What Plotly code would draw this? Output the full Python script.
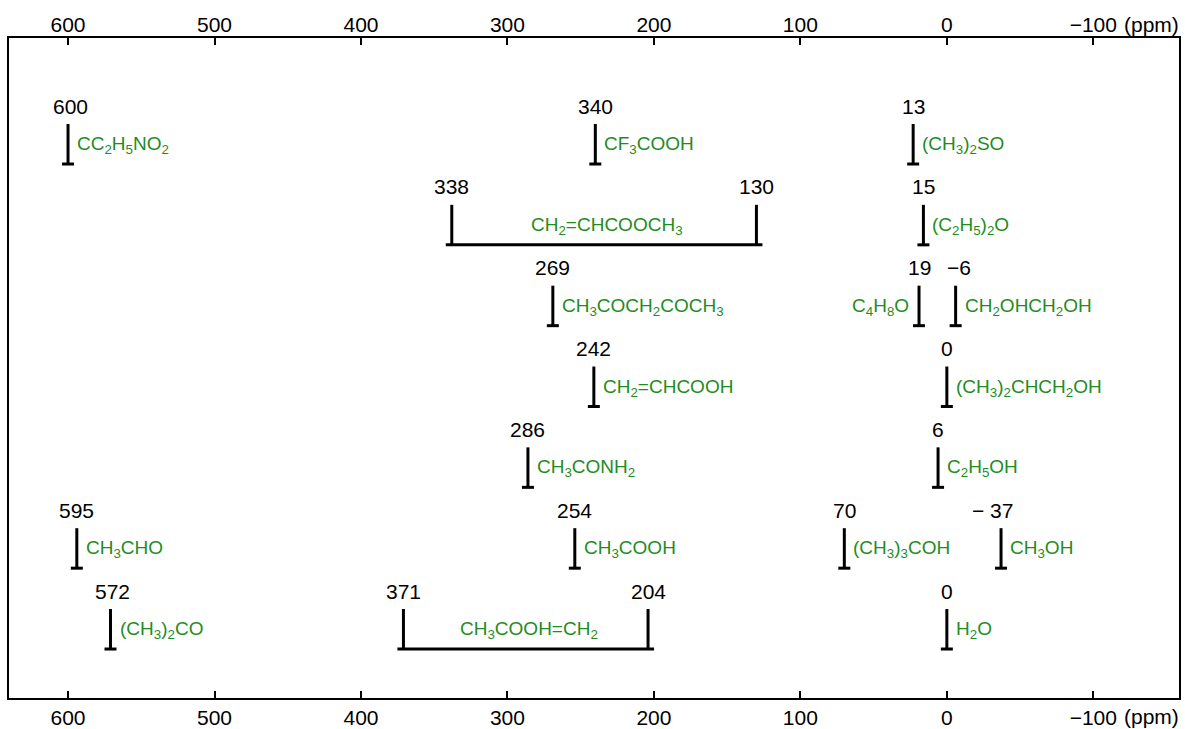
import plotly.graph_objects as go

# ---------------- data ----------------
# single resonances: drawn position (ppm), row, number label, compound, label side
peak_ppm = [600, 240, 23, 16, 269, 19, -6, 241, 0, 286, 6, 594, 254, 70, -37, 571, 0]
peak_row = [1, 1, 1, 2, 3, 3, 3, 4, 4, 5, 5, 6, 6, 6, 6, 7, 7]
peak_label = ["600", "340", "13", "15", "269", "19", "−6", "242", "0", "286", "6",
              "595", "254", "70", "− 37", "572", "0"]
peak_compound = [
    "CC<sub>2</sub>H<sub>5</sub>NO<sub>2</sub>",
    "CF<sub>3</sub>COOH",
    "(CH<sub>3</sub>)<sub>2</sub>SO",
    "(C<sub>2</sub>H<sub>5</sub>)<sub>2</sub>O",
    "CH<sub>3</sub>COCH<sub>2</sub>COCH<sub>3</sub>",
    "C<sub>4</sub>H<sub>8</sub>O",
    "CH<sub>2</sub>OHCH<sub>2</sub>OH",
    "CH<sub>2</sub>=CHCOOH",
    "(CH<sub>3</sub>)<sub>2</sub>CHCH<sub>2</sub>OH",
    "CH<sub>3</sub>CONH<sub>2</sub>",
    "C<sub>2</sub>H<sub>5</sub>OH",
    "CH<sub>3</sub>CHO",
    "CH<sub>3</sub>COOH",
    "(CH<sub>3</sub>)<sub>3</sub>COH",
    "CH<sub>3</sub>OH",
    "(CH<sub>3</sub>)<sub>2</sub>CO",
    "H<sub>2</sub>O",
]
peak_side = ["right"] * 5 + ["left"] + ["right"] * 11
label_xshift = [2, 0, 0, 0, 0, 0, 3, 0, 0, 0, 0, 0, 0, 0, -9, 2, 0]

# paired resonances (two shifts for one compound)
pair_ppm = [(338, 130), (371, 204)]
pair_row = [2, 7]
pair_label = [("338", "130"), ("371", "204")]
pair_compound = ["CH<sub>2</sub>=CHCOOCH<sub>3</sub>", "CH<sub>3</sub>COOH=CH<sub>2</sub>"]

tick_vals = [600, 500, 400, 300, 200, 100, 0, -100]
tick_text = ["600", "500", "400", "300", "200", "100", "0", "−100"]

# ---------------- layout constants ----------------
W, H = 1185, 729
ML, MR, MT, MB = 9, 6, 38, 31
X_RANGE = [640.3, -158.5]
Y_RANGE = [7.606, -0.559]
px_per_ppm = (W - ML - MR) / (X_RANGE[0] - X_RANGE[1])
px_per_row = (H - MT - MB) / (Y_RANGE[0] - Y_RANGE[1])
stem_h = 40 / px_per_row
foot_half = 6 / px_per_ppm

GREEN = "#1f8c1f"
NUM_FONT = dict(family="Liberation Sans, Arial, sans-serif", size=21, color="black")
CMP_FONT = dict(family="Liberation Sans, Arial, sans-serif", size=19, color=GREEN)

xs, ys = [], []
for p, r in zip(peak_ppm, peak_row):
    xs += [p, p, None, p - foot_half, p + foot_half, None]
    ys += [r - stem_h, r, None, r, r, None]
for (a, b), r in zip(pair_ppm, pair_row):
    xs += [a, a, None, b, b, None, a + foot_half, b - foot_half, None]
    ys += [r - stem_h, r, None, r - stem_h, r, None, r, r, None]

fig = go.Figure()
fig.add_trace(go.Scatter(x=xs, y=ys, mode="lines", line=dict(color="black", width=3),
                         hoverinfo="skip", showlegend=False))
# invisible trace on top axis
fig.add_trace(go.Scatter(x=[600], y=[1], xaxis="x2", mode="markers", marker=dict(opacity=0),
                         hoverinfo="skip", showlegend=False))

ann = []
for p, r, lab, cmp_, side, xsh in zip(peak_ppm, peak_row, peak_label, peak_compound, peak_side, label_xshift):
    ann.append(dict(x=p, y=r, text=lab, showarrow=False, xanchor="center", yanchor="middle",
                    yshift=58, xshift=xsh, font=NUM_FONT))
    if side == "right":
        ann.append(dict(x=p, y=r, text=cmp_, showarrow=False, xanchor="left", yanchor="middle",
                        xshift=7, yshift=19, font=CMP_FONT))
    else:
        ann.append(dict(x=p, y=r, text=cmp_, showarrow=False, xanchor="right", yanchor="middle",
                        xshift=-8, yshift=19, font=CMP_FONT))
for (a, b), r, (la, lb), cmp_ in zip(pair_ppm, pair_row, pair_label, pair_compound):
    ann.append(dict(x=a, y=r, text=la, showarrow=False, yanchor="middle", yshift=58, font=NUM_FONT))
    ann.append(dict(x=b, y=r, text=lb, showarrow=False, yanchor="middle", yshift=58, font=NUM_FONT))
    ann.append(dict(x=(a + b) / 2, y=r, text=cmp_, showarrow=False, yanchor="middle",
                    yshift=19, xshift=3, font=CMP_FONT))

ppm_x = (1122 - ML) / (W - ML - MR)
ann.append(dict(xref="paper", yref="paper", x=ppm_x, y=1, xanchor="left", yanchor="bottom",
                yshift=0, text="(ppm)", showarrow=False, font=NUM_FONT))
ann.append(dict(xref="paper", yref="paper", x=ppm_x, y=0, xanchor="left", yanchor="top",
                yshift=-5, text="(ppm)", showarrow=False, font=NUM_FONT))

axis_common = dict(range=X_RANGE, tickvals=tick_vals, ticktext=tick_text, ticks="inside",
                   ticklen=7, tickwidth=2, tickcolor="black", showgrid=False, zeroline=False,
                   tickfont=NUM_FONT, automargin=False)
fig.update_layout(
    width=W, height=H,
    margin=dict(l=ML, r=MR, t=MT, b=MB, pad=0, autoexpand=False),
    paper_bgcolor="white", plot_bgcolor="white",
    xaxis=dict(**axis_common, showline=True, linecolor="black", linewidth=2, mirror=True,
               ticklabelstandoff=0),
    xaxis2=dict(**axis_common, overlaying="x", side="top", anchor="y", showline=False,
                ticklabelstandoff=1),
    yaxis=dict(range=Y_RANGE, showline=True, linecolor="black", linewidth=2, mirror=True,
               showticklabels=False, ticks="", showgrid=False, zeroline=False, automargin=False),
    annotations=ann,
)
fig.write_html("out.html", config={"displayModeBar": False},
               post_script="document.body.style.margin='0';document.body.style.overflow='hidden';")
